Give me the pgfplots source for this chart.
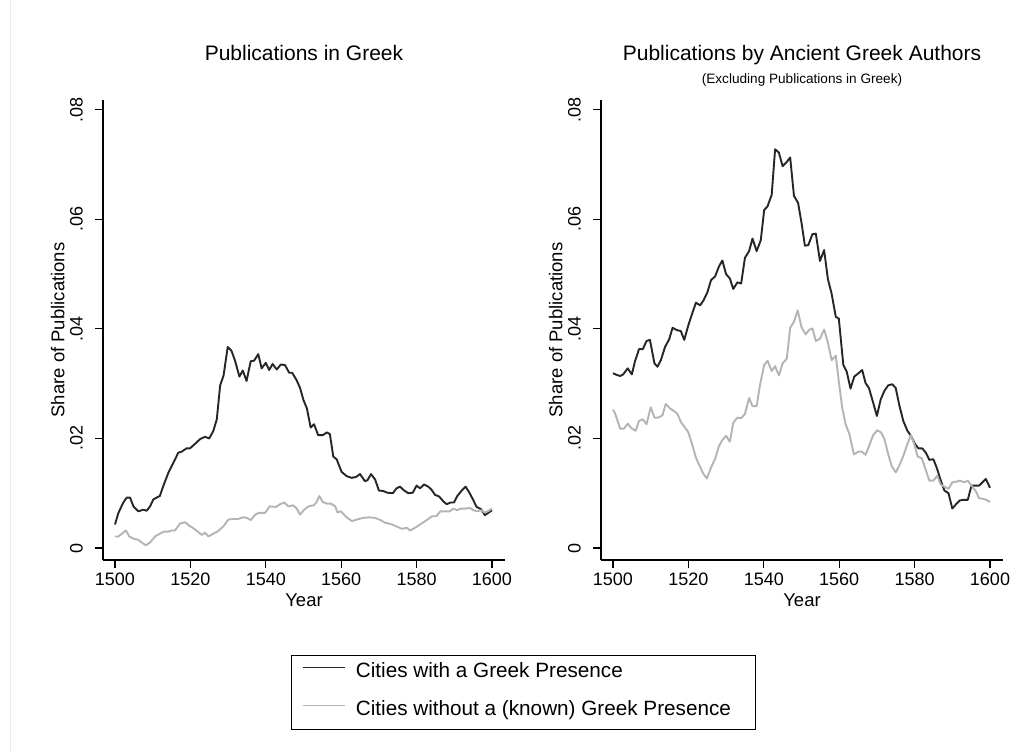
\documentclass[border=0pt]{standalone}
\usepackage{fontspec}
\setmainfont{Liberation Sans}
\usepackage{pgfplots}
\pgfplotsset{compat=1.18}

\definecolor{darkline}{HTML}{262626}
\definecolor{lightline}{HTML}{B4B4B4}

\pgfplotsset{
  panel/.style={
    scale only axis, width=402pt, height=460pt,
    xmin=1496.82, xmax=1603.45, ymin=-0.00219, ymax=0.0818,
    axis lines*=left,
    axis line style={line width=1.1pt, black, -},
    tick align=outside, major tick length=8pt,
    tick style={line width=1.1pt, black},
    scaled y ticks=false, scaled x ticks=false,
    xtick={1500,1520,1540,1560,1580,1600},
    xticklabels={1500,1520,1540,1560,1580,1600},
    ytick={0,0.02,0.04,0.06,0.08},
    yticklabels={0,.02,.04,.06,.08},
    xticklabel style={font=\fontsize{18}{20}\selectfont, anchor=base, inner sep=0pt, yshift=-17.5pt},
    yticklabel style={font=\fontsize{18}{20}\selectfont, xshift=-12.5pt, rotate=90, anchor=base, inner sep=0pt},
    every axis x label/.style={at={(axis description cs:0.5,-0.1011)}, anchor=base, inner sep=0pt, font=\fontsize{18.5}{21}\selectfont},
    every axis y label/.style={at={(axis description cs:-0.0958,0.5)}, rotate=90, anchor=base, inner sep=0pt, font=\fontsize{18.5}{21}\selectfont},
    every axis title/.style={at={(axis description cs:0.5,1.0854)}, anchor=base, inner sep=0pt, font=\fontsize{21}{24}\selectfont},
    xlabel={Year}, ylabel={Share of Publications},
    clip=false,
  },
  dk/.style={darkline, line width=1.9pt, line join=round},
  lt/.style={lightline, line width=1.9pt, line join=round},
}

\begin{document}
\begin{tikzpicture}
\useasboundingbox (0,0) rectangle (1031pt,751pt);
\fill[white] (0,0) rectangle (1031pt,751pt);
\draw[black!8, line width=1pt] (10.5pt,0) -- (10.5pt,751pt);

\begin{axis}[panel, at={(103pt,191pt)}, anchor=south west,
  title={Publications in Greek},
  legend style={at={(axis description cs:1.046,-0.2065)}, anchor=north,
    draw=black, line width=1pt, fill=white,
    font=\fontsize{20.7}{24}\selectfont,
    inner xsep=11pt, inner ysep=0pt, row sep=2pt, column sep=10pt,
    nodes={inner sep=0pt, text height=22pt, text depth=14pt}, cells={anchor=west}},
  legend image code/.code={\path (0pt,0pt) (42pt,0pt); \draw[#1, line width=1.9pt] (0pt,6pt) -- (42pt,6pt);},
]
\addplot[dk] coordinates {
(1500,0.0043) (1500.9,0.0064) (1502.2,0.0083) (1503.1,0.0092) (1504,0.0092) (1504.9,0.0076) (1506.2,0.0067) (1507.5,0.0070) (1508.4,0.0068) (1509.3,0.0076) (1510.2,0.0089) (1511.9,0.0095) (1512.8,0.0113) (1514.2,0.0138) (1515.5,0.0156) (1516.8,0.0174) (1517.7,0.0176) (1519,0.0182) (1519.9,0.0182) (1521.2,0.0190) (1522.6,0.0199) (1523.9,0.0203) (1525,0.0200) (1526.1,0.0214) (1527,0.0235) (1527.9,0.0297) (1528.8,0.0315) (1529.9,0.0367) (1530.9,0.0360) (1531.8,0.0343) (1533,0.0313) (1533.9,0.0324) (1534.9,0.0305) (1536,0.0341) (1536.9,0.0342) (1538,0.0354) (1538.9,0.0328) (1540,0.0338) (1540.9,0.0325) (1541.8,0.0336) (1542.9,0.0326) (1544,0.0335) (1545.1,0.0334) (1546.2,0.0320) (1547,0.0320) (1548.2,0.0306) (1549.1,0.0292) (1550,0.0270) (1550.9,0.0255) (1551.9,0.0220) (1552.8,0.0226) (1553.9,0.0206) (1555.1,0.0206) (1556.2,0.0211) (1557,0.0208) (1557.9,0.0167) (1558.8,0.0162) (1560.1,0.0139) (1561.5,0.0131) (1562.8,0.0128) (1564,0.0130) (1565,0.0135) (1566.3,0.0122) (1567,0.0124) (1567.9,0.0135) (1569,0.0125) (1570,0.0105) (1571.2,0.0104) (1572.2,0.0101) (1573.7,0.0100) (1574.7,0.0109) (1575.6,0.0112) (1576.7,0.0105) (1577.8,0.0100) (1579,0.0101) (1580,0.0114) (1580.9,0.0109) (1582,0.0116) (1583.1,0.0112) (1584,0.0106) (1584.9,0.0097) (1586,0.0094) (1587.1,0.0085) (1588,0.0080) (1589,0.0083) (1589.9,0.0083) (1590.8,0.0095) (1592,0.0105) (1593,0.0112) (1594,0.0101) (1595,0.0088) (1595.9,0.0075) (1597.1,0.0071) (1598.1,0.0060) (1599,0.0064) (1600,0.0069)
};
\addlegendentry{Cities with a Greek Presence}
\addplot[lt] coordinates {
(1500,0.0021) (1500.9,0.0021) (1502.2,0.0028) (1502.9,0.0032) (1503.8,0.0021) (1504.9,0.0017) (1506.2,0.0015) (1507.3,0.0009) (1508.2,0.0005) (1509.3,0.0010) (1510.6,0.0021) (1511.9,0.0026) (1513,0.0030) (1514.2,0.0030) (1515,0.0032) (1515.9,0.0032) (1517.3,0.0045) (1518.6,0.0047) (1519.7,0.0041) (1521,0.0035) (1522.1,0.0029) (1523,0.0024) (1523.9,0.0028) (1524.8,0.0021) (1526,0.0026) (1527.4,0.0031) (1528.8,0.0040) (1530.1,0.0052) (1531.4,0.0053) (1532.7,0.0053) (1533.9,0.0056) (1535,0.0055) (1536,0.0051) (1537.2,0.0061) (1538.1,0.0064) (1539.8,0.0064) (1541,0.0076) (1542.7,0.0075) (1543.8,0.0080) (1544.9,0.0083) (1546,0.0076) (1547.2,0.0078) (1548.1,0.0073) (1549.1,0.0061) (1550.2,0.0070) (1551.3,0.0076) (1552.7,0.0078) (1553.4,0.0083) (1554.2,0.0095) (1555.1,0.0084) (1556.2,0.0081) (1557.3,0.0081) (1558.4,0.0076) (1559,0.0065) (1559.9,0.0067) (1561.3,0.0057) (1562.8,0.0049) (1564.2,0.0052) (1565.8,0.0055) (1567.3,0.0056) (1569,0.0055) (1570.4,0.0051) (1571.7,0.0046) (1573.5,0.0043) (1574.8,0.0039) (1576.1,0.0035) (1577.4,0.0037) (1578.3,0.0032) (1579.6,0.0037) (1581.4,0.0045) (1582.7,0.0051) (1584.1,0.0058) (1585.2,0.0058) (1586.3,0.0067) (1587.6,0.0067) (1588.8,0.0067) (1589.8,0.0072) (1590.7,0.0069) (1591.8,0.0072) (1592.9,0.0072) (1594.2,0.0073) (1595.1,0.0069) (1596,0.0067) (1597.1,0.0069) (1598,0.0065) (1598.9,0.0067) (1600,0.0072)
};
\addlegendentry{Cities without a (known) Greek Presence\rule{14pt}{0pt}}
\end{axis}

\begin{axis}[panel, at={(601pt,191pt)}, anchor=south west,
  title={Publications by Ancient Greek Authors}]
\addplot[dk] coordinates {
(1500,0.0319) (1501,0.0316) (1501.9,0.0314) (1502.7,0.0317) (1503.9,0.0328) (1505,0.0317) (1505.8,0.0340) (1506.9,0.0363) (1507.9,0.0363) (1508.9,0.0378) (1509.8,0.0380) (1511,0.0337) (1511.8,0.0331) (1512.7,0.0343) (1513.8,0.0367) (1514.9,0.0381) (1515.8,0.0402) (1516.9,0.0398) (1518,0.0396) (1518.9,0.0380) (1520,0.0407) (1521,0.0428) (1522,0.0448) (1523.1,0.0443) (1524,0.0452) (1525,0.0466) (1526,0.0489) (1527.1,0.0496) (1528.1,0.0514) (1529,0.0525) (1530,0.0500) (1531,0.0492) (1531.9,0.0473) (1533,0.0485) (1534,0.0483) (1535,0.0530) (1536.1,0.0542) (1537,0.0565) (1538.1,0.0542) (1539.2,0.0562) (1540.1,0.0617) (1541,0.0624) (1542.1,0.0645) (1543,0.0728) (1544,0.0722) (1545,0.0697) (1546.1,0.0705) (1547,0.0713) (1548,0.0643) (1549.1,0.0630) (1550,0.0594) (1550.9,0.0552) (1551.8,0.0553) (1552.9,0.0573) (1553.8,0.0574) (1554.9,0.0524) (1556,0.0544) (1557,0.0491) (1558,0.0464) (1559.1,0.0422) (1559.9,0.0419) (1561.1,0.0334) (1562,0.0322) (1563,0.0291) (1564,0.0313) (1565.1,0.0319) (1566.1,0.0325) (1567,0.0301) (1567.9,0.0292) (1568.9,0.0268) (1570,0.0241) (1571,0.0271) (1572,0.0287) (1573,0.0297) (1574.1,0.0299) (1575,0.0292) (1575.9,0.0262) (1577,0.0232) (1578.1,0.0214) (1579,0.0205) (1580.1,0.0190) (1581,0.0182) (1582,0.0182) (1583,0.0174) (1583.9,0.0161) (1585,0.0162) (1586,0.0144) (1586.9,0.0124) (1587.9,0.0105) (1589,0.0100) (1590,0.0072) (1591,0.0080) (1592,0.0087) (1593.2,0.0088) (1594.1,0.0088) (1595.1,0.0114) (1596,0.0114) (1597.1,0.0114) (1598,0.0120) (1598.9,0.0126) (1600,0.0110)
};
\addplot[lt] coordinates {
(1500,0.0253) (1500.6,0.0245) (1501.9,0.0218) (1502.9,0.0218) (1503.9,0.0227) (1505,0.0218) (1506,0.0214) (1506.9,0.0232) (1507.9,0.0235) (1508.9,0.0226) (1510,0.0257) (1511,0.0238) (1512,0.0238) (1513.1,0.0242) (1514,0.0263) (1515.1,0.0255) (1516.2,0.0250) (1517.1,0.0245) (1518,0.0230) (1519.1,0.0220) (1520,0.0211) (1521,0.0189) (1522,0.0165) (1523.1,0.0148) (1524,0.0135) (1524.9,0.0127) (1526,0.0147) (1527.1,0.0163) (1528.1,0.0186) (1529,0.0197) (1530,0.0205) (1531,0.0194) (1531.9,0.0229) (1533,0.0238) (1534,0.0237) (1535,0.0245) (1536.1,0.0274) (1537,0.0259) (1538.1,0.0259) (1539,0.0298) (1540.1,0.0334) (1541,0.0342) (1542.1,0.0323) (1543,0.0332) (1544,0.0315) (1545,0.0337) (1546.1,0.0346) (1547,0.0402) (1548,0.0413) (1549,0.0434) (1550,0.0403) (1551.1,0.0390) (1552,0.0398) (1552.9,0.0401) (1553.8,0.0378) (1554.9,0.0382) (1556,0.0399) (1557,0.0375) (1558,0.0343) (1559.1,0.0351) (1559.9,0.0304) (1560.8,0.0256) (1561.7,0.0226) (1562.7,0.0208) (1563.9,0.0171) (1565.1,0.0176) (1566,0.0176) (1567,0.0170) (1567.9,0.0186) (1569,0.0206) (1570.1,0.0215) (1571.1,0.0211) (1572,0.0199) (1572.9,0.0174) (1573.9,0.0150) (1575,0.0138) (1575.9,0.0150) (1577,0.0168) (1578.1,0.0190) (1579,0.0206) (1579.9,0.0190) (1580.8,0.0167) (1581.9,0.0164) (1582.9,0.0144) (1583.9,0.0123) (1585,0.0123) (1586,0.0132) (1586.9,0.0116) (1587.9,0.0112) (1589,0.0108) (1590,0.0120) (1591,0.0121) (1592,0.0123) (1593.2,0.0120) (1594.1,0.0123) (1595.1,0.0114) (1596.2,0.0104) (1597.1,0.0091) (1598,0.0090) (1599,0.0088) (1600,0.0084)
};
\node[anchor=base, inner sep=0pt, font=\fontsize{13.6}{16}\selectfont]
  at (axis description cs:0.5,1.0352) {(Excluding Publications in Greek)};
\end{axis}
\end{tikzpicture}
\end{document}
